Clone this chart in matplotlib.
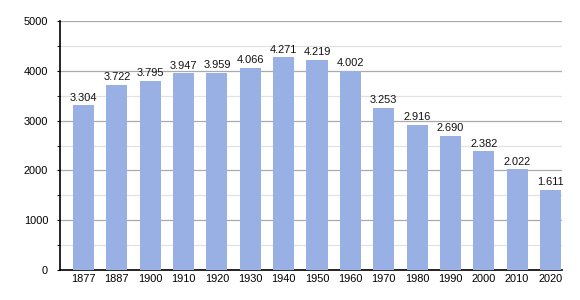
import matplotlib
matplotlib.use("Agg")
import matplotlib.pyplot as plt
from matplotlib.ticker import MultipleLocator

plt.rcParams["font.family"] = ["Liberation Sans", "DejaVu Sans"]

# data
years = ["1877", "1887", "1900", "1910", "1920", "1930", "1940", "1950",
         "1960", "1970", "1980", "1990", "2000", "2010", "2020"]
population = [3304, 3722, 3795, 3947, 3959, 4066, 4271, 4219,
              4002, 3253, 2916, 2690, 2382, 2022, 1611]

fig = plt.figure(figsize=(5.8, 3.0), dpi=100)
ax = fig.add_axes([0.1034, 0.1, 0.8656, 0.83])

x = range(len(years))
ax.bar(x, population, width=0.63, color="#99b0e4", zorder=3)

for xi, v in zip(x, population):
    label = f"{v:,}".replace(",", ".")
    ax.annotate(label, (xi, v), xytext=(0, 2), textcoords="offset points",
                ha="center", va="bottom", fontsize=7.9, color="#111111")

ax.set_ylim(0, 5000)
ax.set_xlim(-0.705, len(years) - 1 + 0.345)
ax.set_xticks(list(x))
ax.set_xticklabels(years)
ax.yaxis.set_major_locator(MultipleLocator(1000))
ax.yaxis.set_minor_locator(MultipleLocator(500))

ax.grid(axis="y", which="major", color="#aaaaaa", linewidth=0.9, zorder=0)
ax.grid(axis="y", which="minor", color="#e2e2e2", linewidth=0.9, zorder=0)

for s in ["top", "right"]:
    ax.spines[s].set_visible(False)
ax.spines["left"].set_linewidth(1.2)
ax.spines["bottom"].set_linewidth(1.2)

ax.tick_params(axis="x", length=0, labelsize=7.9, pad=3)
ax.tick_params(axis="y", which="major", length=2.5, labelsize=7.9, pad=6)
ax.tick_params(axis="y", which="minor", length=2.5)

fig.savefig("out.png", dpi=100)
